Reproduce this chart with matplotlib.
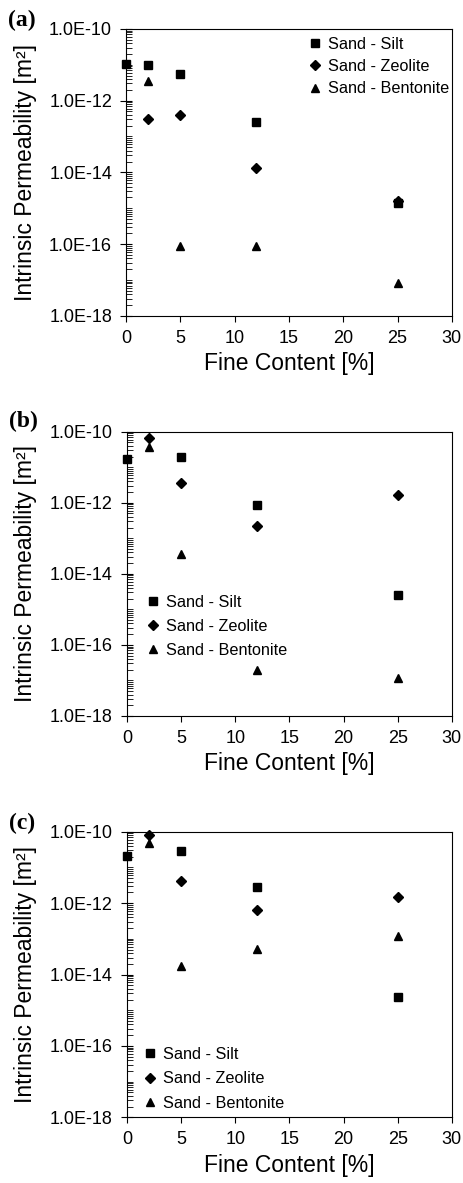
import numpy as np
import matplotlib
matplotlib.use('Agg')
import matplotlib.pyplot as plt
from matplotlib.ticker import LogLocator, FuncFormatter, NullFormatter

plt.rcParams['font.family'] = ['Liberation Sans', 'DejaVu Sans']

# 细粒含量 (%)
fines_silt = [0, 2, 5, 12, 25]
fines_other = [2, 5, 12, 25]

# (a)
silt_a = [1.07e-11, 9.7e-12, 5.5e-12, 2.6e-13, 1.4e-15]
zeolite_a = [3.1e-13, 4.1e-13, 1.3e-14, 1.6e-15]
bentonite_a = [3.6e-12, 9.0e-17, 9.0e-17, 8.5e-18]

# (b)
silt_b = [1.74e-11, None, 1.9e-11, 8.9e-13, 2.5e-15]
zeolite_b = [6.5e-11, 3.5e-12, 2.2e-13, 1.65e-12]
bentonite_b = [3.8e-11, 3.5e-14, 2.0e-17, 1.2e-17]

# (c)
silt_c = [2.1e-11, None, 2.9e-11, 2.9e-12, 2.4e-15]
zeolite_c = [8.1e-11, 4.1e-12, 6.5e-13, 1.5e-12]
bentonite_c = [5.0e-11, 1.7e-14, 5.1e-14, 1.2e-13]

panels = [
    ('(a)', silt_a, zeolite_a, bentonite_a),
    ('(b)', silt_b, zeolite_b, bentonite_b),
    ('(c)', silt_c, zeolite_c, bentonite_c),
]

# 坐标轴位置 [left, bottom, width, height]
positions = [
    [0.272, 0.733, 0.704, 0.2426],
    [0.274, 0.3948, 0.702, 0.2403],
    [0.274, 0.0555, 0.702, 0.2414],
]
legend_pos = [
    dict(loc='upper right', bbox_to_anchor=(1.026, 1.012), labelspacing=0.45),
    dict(loc='upper left', bbox_to_anchor=(0.03, 0.465), labelspacing=0.55),
    dict(loc='upper left', bbox_to_anchor=(0.02, 0.286), labelspacing=0.58),
]
tag_y = [1.031, 1.035, 1.03]


def sci_fmt(v, pos):
    e = int(round(np.log10(v)))
    return '1.0E%d' % e


fig = plt.figure(figsize=(4.63, 11.83), dpi=100)

for (tag, silt, zeo, ben), rect, lp, ty in zip(panels, positions, legend_pos, tag_y):
    ax = fig.add_axes(rect)
    sx = [x for x, y in zip(fines_silt, silt) if y is not None]
    sy = [y for y in silt if y is not None]
    ax.plot(sx, sy, 's', color='black', markersize=5.5, label='Sand - Silt', clip_on=False)
    ax.plot(fines_other, zeo, 'D', color='black', markersize=5.2, label='Sand - Zeolite', clip_on=False)
    ax.plot(fines_other, ben, '^', color='black', markersize=6.2, label='Sand - Bentonite', clip_on=False)

    ax.set_yscale('log')
    ax.set_xlim(0, 30)
    ax.set_ylim(1e-18, 1e-10)
    ax.set_xticks([0, 5, 10, 15, 20, 25, 30])
    ax.yaxis.set_major_locator(LogLocator(base=100.0, numticks=10))
    ax.yaxis.set_minor_locator(LogLocator(base=10.0, subs=np.arange(1, 10), numticks=100))
    ax.yaxis.set_major_formatter(FuncFormatter(sci_fmt))
    ax.yaxis.set_minor_formatter(NullFormatter())

    ax.tick_params(axis='y', which='major', direction='inout', length=8, width=0.8, labelsize=13, pad=6)
    ax.tick_params(axis='y', which='minor', direction='in', length=4, width=0.6)
    ax.tick_params(axis='x', which='major', direction='out', length=4, width=0.8, labelsize=13, pad=6)
    for s in ax.spines.values():
        s.set_linewidth(0.8)

    ax.set_xlabel('Fine Content [%]', fontsize=16.5, labelpad=4)
    ax.set_ylabel('Intrinsic Permeability [m²]', fontsize=16.5, labelpad=9)

    ax.legend(frameon=False, fontsize=11.7, handlelength=0.6, handletextpad=0.5,
              borderaxespad=0.3, **lp)

    ax.text(-0.362, ty, tag, transform=ax.transAxes, fontsize=17, fontweight='bold',
            family='Liberation Serif', ha='left', va='center')

fig.savefig('out.png', dpi=100)
